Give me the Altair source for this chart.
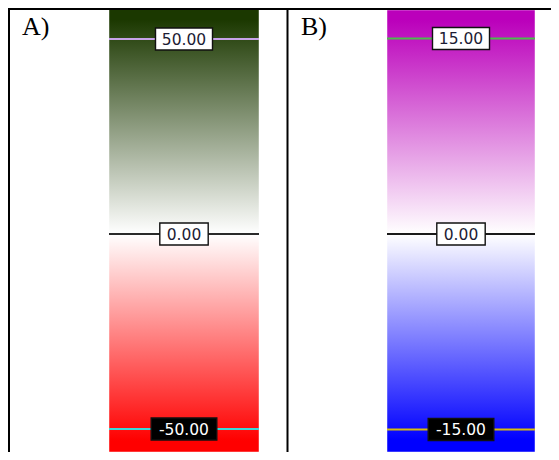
import altair as alt
import pandas as pd

# ---- data ----
panel_names = ["A)", "B)"]

tick_values_a = [50, 0, -50]
tick_labels_a = ["50.00", "0.00", "-50.00"]
tick_values_b = [15, 0, -15]
tick_labels_b = ["15.00", "0.00", "-15.00"]

domain_a = [-55.9, 57.95]
domain_b = [-16.73, 17.34]

bar_range_a = [57.7, -55.9]
bar_range_b = [17.19, -16.73]

stop_values_a = [57.7, 55, 0, -53, -55.9]
stop_colors_a = ["#1b3800", "#1b3800", "#ffffff", "#ff0000", "#ff0000"]
stop_values_b = [17.19, 16.4, 0, -15.8, -16.73]
stop_colors_b = ["#bb00bb", "#bb00bb", "#ffffff", "#0000ff", "#0000ff"]

line_colors_a = ["#c8a4ea", "#2a2a2a", "#3ed8d8"]
line_colors_b = ["#4cbc4c", "#1a1a1a", "#d8bc10"]
box_fills = ["#ffffff", "#ffffff", "#000000"]
text_colors = ["#1c1c34", "#1c1c34", "#ffffff"]

W = 543
H = 444
SPLIT = 279


def panel(name, values, labels, bar_range, stop_values, stop_colors,
          line_colors, domain, x0, x1, bar_x):
    yscale = alt.Scale(domain=domain, nice=False, zero=False)
    top, bot = bar_range
    stops = [alt.GradientStop(color=c, offset=(top - v) / (top - bot))
             for v, c in zip(stop_values, stop_colors)]
    bar_df = pd.DataFrame({"top": [top], "bot": [bot]})
    bar = alt.Chart(bar_df).mark_rect(
        fill=alt.LinearGradient(gradient="linear", stops=stops,
                                x1=0, x2=0, y1=0, y2=1),
        stroke="#ffffff", strokeOpacity=0.45, strokeWidth=1,
    ).encode(
        x=alt.value(bar_x[0]), x2=alt.value(bar_x[1]),
        y=alt.Y("top:Q", scale=yscale, axis=None), y2="bot:Q",
    )

    tick_df = pd.DataFrame({"v": values, "lab": labels, "lc": line_colors,
                            "bf": box_fills, "tc": text_colors})
    rules = alt.Chart(tick_df).mark_rule(strokeWidth=2).encode(
        x=alt.value(bar_x[0]), x2=alt.value(bar_x[1]),
        y=alt.Y("v:Q", scale=yscale, axis=None),
        color=alt.Color("lc:N", scale=None),
    )
    cx = (bar_x[0] + bar_x[1]) / 2
    boxes = []
    for lab in labels:
        half = 7 + 4.3 * len(lab)
        boxes.append(
            alt.Chart(tick_df).transform_filter(alt.datum.lab == lab).mark_rect(
                xOffset=-half, x2Offset=half, yOffset=-11, y2Offset=11,
                stroke="#111111", strokeWidth=1.4,
            ).encode(
                x=alt.value(cx), x2=alt.value(cx),
                y=alt.Y("v:Q", scale=yscale, axis=None), y2="v:Q",
                fill=alt.Fill("bf:N", scale=None),
            )
        )
    text = alt.Chart(tick_df).mark_text(
        font="DejaVu Sans", fontSize=15.5, align="center", baseline="middle", dy=1
    ).encode(
        x=alt.value(cx),
        y=alt.Y("v:Q", scale=yscale, axis=None),
        text="lab:N",
        color=alt.Color("tc:N", scale=None),
    )
    one = pd.DataFrame({"name": [name]})
    title = alt.Chart(one).mark_text(
        font="Liberation Serif", fontSize=26, align="left",
        baseline="alphabetic", color="black"
    ).encode(x=alt.value(x0 + 14), y=alt.value(27), text="name:N")
    top_line = alt.Chart(one).mark_rule(color="black", strokeWidth=2).encode(
        x=alt.value(x0), x2=alt.value(x1), y=alt.value(1))
    side_line = alt.Chart(one).mark_rule(color="black", strokeWidth=2).encode(
        x=alt.value(x0 + 1 if x0 == 0 else x0 + 0.5), y=alt.value(0), y2=alt.value(H))
    return alt.layer(bar, rules, *boxes, text, title, top_line, side_line)


pa = panel(panel_names[0], tick_values_a, tick_labels_a, bar_range_a,
           stop_values_a, stop_colors_a, line_colors_a, domain_a,
           0, SPLIT, (101, 251))
pb = panel(panel_names[1], tick_values_b, tick_labels_b, bar_range_b,
           stop_values_b, stop_colors_b, line_colors_b, domain_b,
           SPLIT, W, (379, 527))

chart = alt.layer(pa, pb).resolve_scale(y="independent").properties(
    width=W, height=H, padding=0,
    autosize=alt.AutoSizeParams(type="none"),
).configure_view(stroke="transparent")

chart.save("out.html", embed_options={"renderer": "svg", "actions": False})
